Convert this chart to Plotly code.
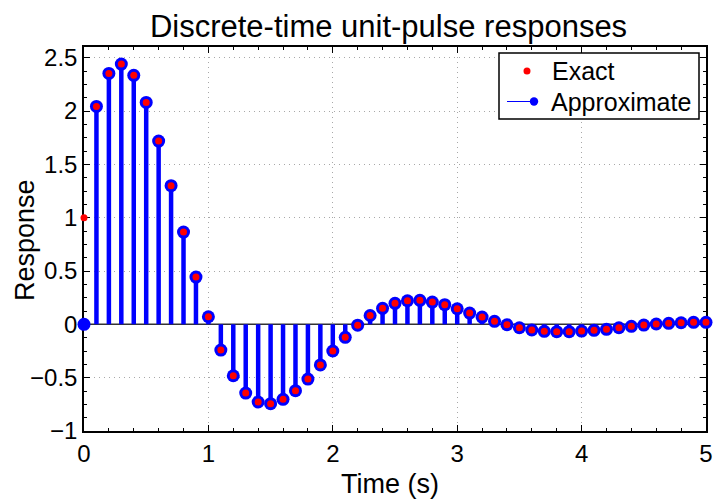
import plotly.graph_objects as go

t = [round(0.1 * i, 1) for i in range(51)]

approx = [0.0, 2.043, 2.352, 2.44, 2.334, 2.08, 1.718, 1.30, 0.865, 0.443, 0.071,
          -0.241, -0.482, -0.644, -0.728, -0.744, -0.703, -0.622, -0.513, -0.381, -0.250,
          -0.122, -0.008, 0.083, 0.150, 0.197, 0.221, 0.225, 0.209, 0.184, 0.146,
          0.106, 0.068, 0.028, -0.004, -0.032, -0.053, -0.066, -0.069, -0.069, -0.063,
          -0.056, -0.047, -0.032, -0.019, -0.007, 0.003, 0.009, 0.015, 0.019, 0.019]

exact = [1.0, 2.043, 2.352, 2.44, 2.334, 2.08, 1.718, 1.30, 0.865, 0.443, 0.071,
         -0.241, -0.482, -0.644, -0.728, -0.744, -0.703, -0.622, -0.513, -0.381, -0.250,
         -0.122, -0.008, 0.083, 0.150, 0.197, 0.221, 0.225, 0.209, 0.184, 0.146,
         0.106, 0.068, 0.028, -0.004, -0.032, -0.053, -0.066, -0.069, -0.069, -0.063,
         -0.056, -0.047, -0.032, -0.019, -0.007, 0.003, 0.009, 0.015, 0.019, 0.019]

series_names = ["Exact", "Approximate"]
title_text = "Discrete-time unit-pulse responses"
x_label = "Time (s)"
y_label = "Response"

FONT = "Liberation Sans, Arial, Helvetica, sans-serif"
W, H = 718, 500
ML, MR, MT, MB = 84, 12, 47, 69
PW, PH = W - ML - MR, H - MT - MB


def px(xp):
    return (xp - ML) / PW


def py(yp):
    return (H - MB - yp) / PH


sx, sy = [], []
for ti, vi in zip(t, approx):
    sx += [ti, ti, None]
    sy += [0, vi, None]

fig = go.Figure()
fig.add_trace(go.Scatter(x=[t[0], t[-1]], y=[0, 0], mode="lines",
                         line=dict(color="#333333", width=1.5), hoverinfo="skip"))
fig.add_trace(go.Scatter(x=sx, y=sy, mode="lines", line=dict(color="#0000ff", width=4.5),
                         hoverinfo="skip"))
fig.add_trace(go.Scatter(x=t, y=approx, mode="markers", cliponaxis=False, name=series_names[1],
                         marker=dict(color="#0000ff", size=13, line=dict(width=0))))
fig.add_trace(go.Scatter(x=t, y=exact, mode="markers", name=series_names[0], cliponaxis=False,
                         marker=dict(color="#ff0000", size=7, line=dict(width=0))))

axis_common = dict(
    showline=True, linecolor="black", linewidth=1.5, mirror="allticks",
    ticks="inside", ticklen=6, tickwidth=1.2, tickcolor="black",
    showgrid=True, gridcolor="#a8a8a8", griddash="1px,4px", gridwidth=1,
    zeroline=False, automargin=False, layer="below traces",
    tickfont=dict(size=24, color="black", family=FONT),
)

fig.update_xaxes(range=[0, 5], dtick=1, tick0=0,
                 minor=dict(ticks="inside", ticklen=3, dtick=0.2, tickcolor="black", showgrid=False),
                 **axis_common)
fig.update_yaxes(range=[-1, 2.6], dtick=0.5, tick0=0,
                 minor=dict(ticks="inside", ticklen=3, dtick=0.125, tickcolor="black", showgrid=False),
                 **axis_common)

shapes = [
    dict(type="rect", xref="paper", yref="paper", x0=px(499), x1=px(699), y0=py(53), y1=py(119),
         fillcolor="white", line=dict(color="black", width=1.5), layer="above"),
    dict(type="circle", xref="paper", yref="paper", xsizemode="pixel", ysizemode="pixel",
         xanchor=px(527), yanchor=py(71), x0=-3.5, x1=3.5, y0=-3.5, y1=3.5,
         fillcolor="#ff0000", line=dict(width=0), layer="above"),
    dict(type="line", xref="paper", yref="paper", x0=px(507), x1=px(535), y0=py(101.5), y1=py(101.5),
         line=dict(color="#0000ff", width=1), layer="above"),
    dict(type="circle", xref="paper", yref="paper", xsizemode="pixel", ysizemode="pixel",
         xanchor=px(534), yanchor=py(101.5), x0=-4.2, x1=4.2, y0=-4.2, y1=4.2,
         fillcolor="#0000ff", line=dict(width=0), layer="above"),
]

annotations = [
    dict(text=series_names[0], xref="paper", yref="paper", x=px(550), y=py(71),
         xanchor="left", yanchor="middle", showarrow=False,
         font=dict(size=25, color="black", family=FONT)),
    dict(text=series_names[1], xref="paper", yref="paper", x=px(549), y=py(102),
         xanchor="left", yanchor="middle", showarrow=False,
         font=dict(size=25, color="black", family=FONT)),
    dict(text=y_label, xref="paper", yref="paper", x=px(25), y=py(240), textangle=-90,
         xanchor="center", yanchor="middle", showarrow=False,
         font=dict(size=27, color="black", family=FONT)),
    dict(text=x_label, xref="paper", yref="paper", x=px(390), y=py(484),
         xanchor="center", yanchor="middle", showarrow=False,
         font=dict(size=27, color="black", family=FONT)),
]

fig.update_layout(
    width=W, height=H,
    margin=dict(l=ML, r=MR, t=MT, b=MB, autoexpand=False),
    paper_bgcolor="white", plot_bgcolor="white",
    font=dict(family=FONT, color="black"),
    showlegend=False,
    title=dict(text=title_text, x=px(388.5), xanchor="center",
               xref="paper", y=0.948, yanchor="middle",
               font=dict(size=31, color="black", family=FONT)),
    shapes=shapes,
    annotations=annotations,
)

fig.write_html("out.html")
